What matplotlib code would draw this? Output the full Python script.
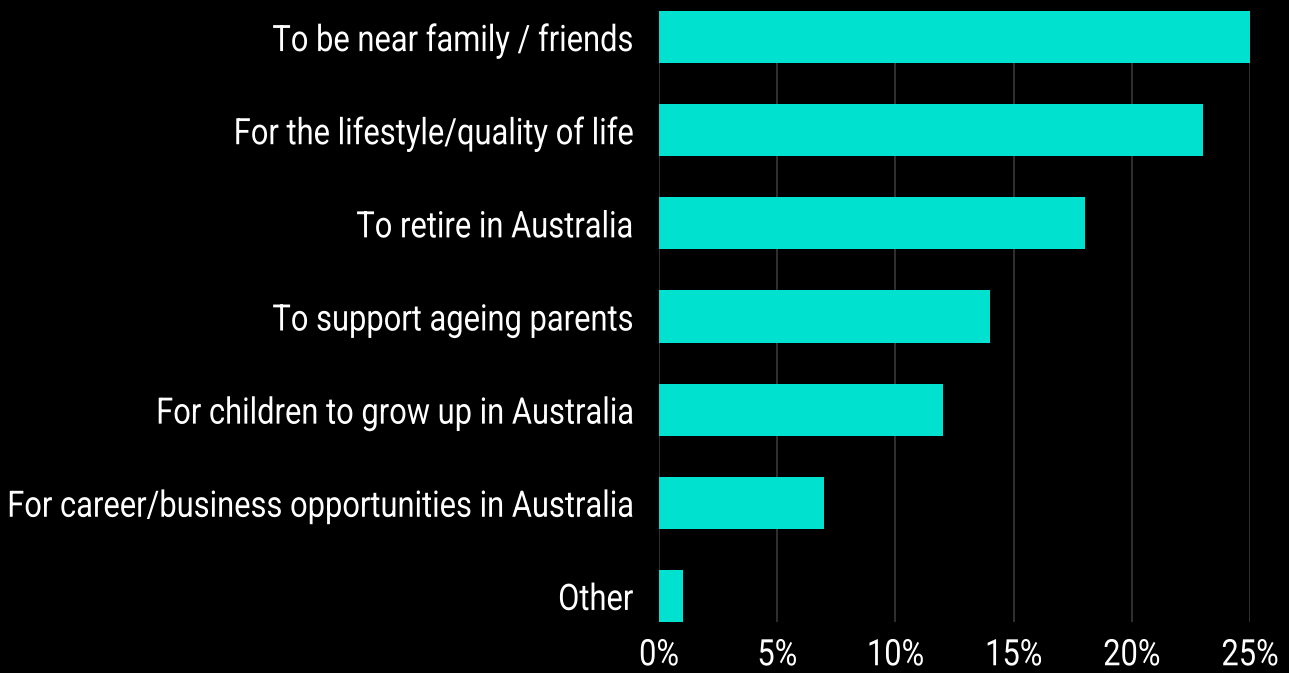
import matplotlib
matplotlib.use("Agg")
import matplotlib.pyplot as plt
from matplotlib.path import Path
from matplotlib.patheffects import AbstractPathEffect
from matplotlib.ticker import FuncFormatter, MultipleLocator
from matplotlib.transforms import Affine2D

# reasons for returning, top to bottom
reasons = [
    "To be near family / friends",
    "For the lifestyle/quality of life",
    "To retire in Australia",
    "To support ageing parents",
    "For children to grow up in Australia",
    "For career/business opportunities in Australia",
    "Other",
]
shares = [25, 23, 18, 14, 12, 7, 1]

BAR_COLOR = "#00e1d0"
GRID_COLOR = "#383838"
LABEL_SIZE = 26.3


class Condensed(AbstractPathEffect):
    """Squeeze text glyphs horizontally (no condensed font installed)."""

    def __init__(self, factor, anchor="right"):
        super().__init__()
        self.factor = factor
        self.anchor = anchor

    def draw_path(self, renderer, gc, tpath, affine, rgbFace=None):
        verts = tpath.vertices
        if tpath.codes is not None:
            verts = verts[tpath.codes != Path.CLOSEPOLY]
        if len(verts) == 0:
            return
        xs = verts[:, 0]
        x0 = xs.max() if self.anchor == "right" else (xs.min() + xs.max()) / 2
        squeeze = Affine2D().translate(-x0, 0).scale(self.factor, 1).translate(x0, 0)
        renderer.draw_path(gc, tpath, squeeze + affine, rgbFace)


plt.rcParams["font.family"] = ["Roboto", "DejaVu Sans"]

fig = plt.figure(figsize=(12.89, 6.73), dpi=100, facecolor="black")
ax = fig.add_axes([659 / 1289, 1 - 622 / 673, (1250 - 659) / 1289, (622 - 11) / 673])
ax.set_facecolor("black")

ypos = list(range(len(reasons)))
ax.barh(ypos, shares, height=0.56, color=BAR_COLOR, zorder=3)

ax.set_ylim(len(reasons) - 1 + 0.28, -0.28)
ax.set_xlim(0, 25)
ax.xaxis.set_major_locator(MultipleLocator(5))
ax.xaxis.set_major_formatter(FuncFormatter(lambda v, _: f"{v:.0f}%"))
ax.grid(axis="x", color=GRID_COLOR, linewidth=1.2, zorder=0)

ax.set_yticks(ypos)
ax.set_yticklabels(reasons)
ax.tick_params(axis="y", length=0, pad=18.5, labelsize=LABEL_SIZE, labelcolor="white")
ax.tick_params(axis="x", length=0, pad=11, labelsize=LABEL_SIZE, labelcolor="white")

for side in ax.spines.values():
    side.set_visible(False)

fig.canvas.draw()
for lbl in ax.get_yticklabels():
    lbl.set_path_effects([Condensed(0.845, "right")])
for lbl in ax.get_xticklabels():
    lbl.set_path_effects([Condensed(0.845, "center")])

fig.savefig("out.png", dpi=100, facecolor="black")
